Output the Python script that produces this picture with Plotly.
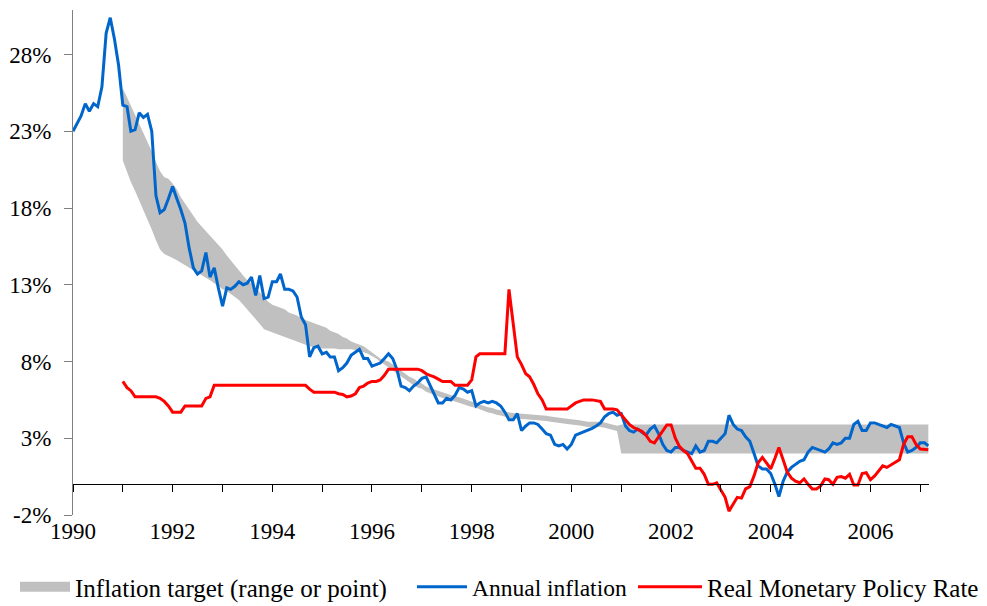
import pandas as pd
import plotly.graph_objects as go

# Annual inflation (%), monthly from Jan 1990
inflation = [
    23.0, 23.5, 24.0, 24.8, 24.3, 24.8, 24.6, 25.9, 29.4, 30.4, 29.0, 27.3,   # 1990
    24.7, 24.6, 23.0, 23.1, 24.2, 23.9, 24.1, 23.0, 18.8, 17.7, 17.9, 18.6,   # 1991
    19.4, 18.6, 17.9, 17.0, 15.4, 14.1, 13.7, 13.9, 15.1, 13.5, 14.1, 12.8,   # 1992
    11.6, 12.8, 12.7, 12.9, 13.2, 13.0, 13.1, 13.5, 12.3, 13.6, 12.1, 12.2,   # 1993
    13.2, 13.2, 13.7, 12.7, 12.7, 12.6, 12.2, 10.9, 10.4, 8.3, 8.9, 9.0,      # 1994
    8.5, 8.6, 8.3, 8.3, 7.4, 7.6, 7.9, 8.4, 8.6, 8.8, 8.2, 8.2,              # 1995
    7.7, 7.8, 7.9, 8.2, 8.5, 8.2, 7.5, 6.4, 6.3, 6.1, 6.4, 6.6,              # 1996
    6.9, 7.0, 6.5, 5.9, 5.3, 5.3, 5.6, 5.5, 5.8, 6.3, 6.2, 6.0,              # 1997
    6.1, 5.1, 5.3, 5.4, 5.3, 5.4, 5.3, 5.1, 4.7, 4.2, 4.2, 4.6,              # 1998
    3.5, 3.8, 4.0, 4.0, 3.9, 3.6, 3.3, 3.2, 2.6, 2.5, 2.6, 2.3,              # 1999
    2.6, 3.2, 3.3, 3.4, 3.5, 3.65, 3.8, 4.0, 4.4, 4.6, 4.7, 4.5,             # 2000
    4.6, 3.8, 3.5, 3.4, 3.6, 3.4, 3.2, 3.6, 3.8, 3.3, 2.6, 2.2,              # 2001
    2.1, 2.4, 2.4, 2.2, 2.1, 2.0, 2.5, 2.1, 2.2, 2.8, 2.8, 2.7,              # 2002
    3.0, 3.3, 4.5, 3.9, 3.6, 3.5, 3.1, 2.8, 2.0, 1.2, 1.0, 1.0,              # 2003
    0.7, 0.0, -0.8, 0.2, 0.8, 1.1, 1.3, 1.5, 1.6, 2.1, 2.4, 2.3,             # 2004
    2.2, 2.1, 2.3, 2.7, 2.6, 2.7, 3.0, 3.0, 3.9, 4.1, 3.5, 3.5,              # 2005
    4.0, 4.0, 3.9, 3.8, 3.7, 3.9, 3.8, 3.7, 2.7, 2.1, 2.2, 2.4,              # 2006
    2.7, 2.7, 2.5,                                                           # 2007
]

# Real monetary policy rate (%), monthly from Jan 1991
real_mpr = [
    6.7, 6.3, 6.1, 5.7, 5.7, 5.7, 5.7, 5.7, 5.7, 5.6, 5.4, 5.1,              # 1991
    4.7, 4.7, 4.7, 5.1, 5.1, 5.1, 5.1, 5.1, 5.6, 5.7, 6.45, 6.45,            # 1992
    6.45, 6.45, 6.45, 6.45, 6.45, 6.45, 6.45, 6.45, 6.45, 6.45, 6.45, 6.45,  # 1993
    6.45, 6.45, 6.45, 6.45, 6.45, 6.45, 6.45, 6.45, 6.45, 6.2, 6.0, 6.0,     # 1994
    6.0, 6.0, 6.0, 6.0, 5.9, 5.85, 5.7, 5.75, 5.9, 6.3, 6.4, 6.6,            # 1995
    6.7, 6.7, 6.8, 7.1, 7.5, 7.5, 7.5, 7.5, 7.5, 7.5, 7.5, 7.5,              # 1996
    7.4, 7.2, 7.1, 7.0, 6.85, 6.7, 6.7, 6.7, 6.45, 6.45, 6.45, 6.45,         # 1997
    6.8, 8.3, 8.5, 8.5, 8.5, 8.5, 8.5, 8.5, 8.5, 12.7, 10.4, 8.3,            # 1998
    7.8, 7.2, 7.0, 6.5, 5.9, 5.5, 4.9, 4.9, 4.9, 4.9, 4.9, 4.9,              # 1999
    5.1, 5.3, 5.4, 5.5, 5.5, 5.5, 5.45, 5.4, 4.9, 4.9, 4.9, 4.85,            # 2000
    4.5, 4.2, 3.9, 3.7, 3.55, 3.45, 3.2, 2.8, 2.7, 3.1, 3.5, 3.87,           # 2001
    3.87, 3.0, 2.5, 2.2, 2.0, 1.5, 1.05, 1.05, 0.65, 0.0, 0.0, 0.1,          # 2002
    -0.4, -0.85, -1.75, -1.3, -0.85, -0.9, -0.3, -0.15, 0.55, 1.4, 1.75, 1.4,  # 2003
    1.0, 1.7, 2.4, 1.6, 0.8, 0.4, 0.2, 0.1, 0.35, 0.0, -0.3, -0.3,          # 2004
    -0.1, 0.35, 0.3, 0.0, 0.45, 0.5, 0.4, 0.65, -0.05, -0.05, 0.7, 0.75,     # 2005
    0.3, 0.55, 0.85, 1.2, 1.1, 1.25, 1.4, 1.6, 2.6, 3.1, 3.1, 2.6,           # 2006
    2.3, 2.25, 2.25,                                                         # 2007
]

# Inflation target band (%), monthly from Jan 1991: lower and upper bounds
target_low = [
    21.1, 20.3, 19.7, 19.1, 18.5, 17.9, 17.2, 16.6, 15.9, 15.3, 15.0, 14.85,   # 1991
    14.75, 14.6, 14.45, 14.3, 14.1, 13.95, 13.8, 13.65, 13.5, 13.3, 13.1, 12.9,  # 1992
    12.7, 12.6, 12.4, 12.2, 12.0, 11.7, 11.4, 11.1, 10.8, 10.45, 10.1, 10.0,   # 1993
    9.85, 9.75, 9.7, 9.6, 9.5, 9.4, 9.3, 9.2, 9.1, 9.0, 8.95, 8.9,             # 1994
    8.85, 8.85, 8.85, 8.85, 8.8, 8.8, 8.8, 8.8, 8.75, 8.7, 8.6, 8.5,           # 1995
    8.35, 8.2, 8.0, 7.8, 7.6, 7.4, 7.2, 7.0, 6.8, 6.6, 6.45, 6.3,              # 1996
    6.23, 6.03, 5.93, 5.83, 5.73, 5.63, 5.58, 5.48, 5.38, 5.33, 5.23, 5.13,    # 1997
    5.03, 4.98, 4.88, 4.78, 4.68, 4.63, 4.53, 4.48, 4.38, 4.33, 4.30, 4.28,    # 1998
    4.25, 4.23, 4.21, 4.20, 4.19, 4.18, 4.13, 4.08, 4.03, 3.98, 3.95, 3.93,    # 1999
    3.90, 3.88, 3.83, 3.78, 3.73, 3.73, 3.73, 3.73, 3.68, 3.63, 3.53, 3.48,    # 2000
    2.0, 2.0, 2.0, 2.0, 2.0, 2.0, 2.0, 2.0, 2.0, 2.0, 2.0, 2.0,                # 2001
    2.0, 2.0, 2.0, 2.0, 2.0, 2.0, 2.0, 2.0, 2.0, 2.0, 2.0, 2.0,                # 2002
    2.0, 2.0, 2.0, 2.0, 2.0, 2.0, 2.0, 2.0, 2.0, 2.0, 2.0, 2.0,                # 2003
    2.0, 2.0, 2.0, 2.0, 2.0, 2.0, 2.0, 2.0, 2.0, 2.0, 2.0, 2.0,                # 2004
    2.0, 2.0, 2.0, 2.0, 2.0, 2.0, 2.0, 2.0, 2.0, 2.0, 2.0, 2.0,                # 2005
    2.0, 2.0, 2.0, 2.0, 2.0, 2.0, 2.0, 2.0, 2.0, 2.0, 2.0, 2.0,                # 2006
    2.0, 2.0, 2.0,                                                             # 2007
]
target_high = [
    25.8, 25.2, 24.7, 24.1, 23.5, 22.9, 22.3, 21.7, 21.0, 20.4, 20.0, 19.9,    # 1991
    19.6, 19.2, 18.7, 18.3, 17.9, 17.5, 17.1, 16.8, 16.5, 16.2, 15.9, 15.6,    # 1992
    15.3, 14.9, 14.6, 14.2, 13.9, 13.6, 13.3, 13.1, 12.8, 12.5, 12.2, 11.9,    # 1993
    11.7, 11.6, 11.5, 11.4, 11.2, 11.1, 11.0, 10.8, 10.7, 10.6, 10.5, 10.4,    # 1994
    10.3, 10.2, 10.0, 9.9, 9.8, 9.6, 9.5, 9.3, 9.2, 9.1, 9.0, 8.8,             # 1995
    8.6, 8.4, 8.2, 8.1, 8.0, 7.8, 7.6, 7.4, 7.2, 7.0, 6.9, 6.7,                # 1996
    6.57, 6.37, 6.27, 6.17, 6.07, 5.97, 5.92, 5.82, 5.72, 5.67, 5.57, 5.47,    # 1997
    5.37, 5.32, 5.22, 5.12, 5.02, 4.97, 4.87, 4.82, 4.72, 4.67, 4.64, 4.62,    # 1998
    4.59, 4.57, 4.55, 4.54, 4.53, 4.52, 4.47, 4.42, 4.37, 4.32, 4.29, 4.27,    # 1999
    4.24, 4.22, 4.17, 4.12, 4.07, 4.07, 4.07, 4.07, 4.02, 3.97, 3.87, 3.82,    # 2000
    3.9, 3.9, 3.9, 3.9, 3.9, 3.9, 3.9, 3.9, 3.9, 3.9, 3.9, 3.9,                # 2001
    3.9, 3.9, 3.9, 3.9, 3.9, 3.9, 3.9, 3.9, 3.9, 3.9, 3.9, 3.9,                # 2002
    3.9, 3.9, 3.9, 3.9, 3.9, 3.9, 3.9, 3.9, 3.9, 3.9, 3.9, 3.9,                # 2003
    3.9, 3.9, 3.9, 3.9, 3.9, 3.9, 3.9, 3.9, 3.9, 3.9, 3.9, 3.9,                # 2004
    3.9, 3.9, 3.9, 3.9, 3.9, 3.9, 3.9, 3.9, 3.9, 3.9, 3.9, 3.9,                # 2005
    3.9, 3.9, 3.9, 3.9, 3.9, 3.9, 3.9, 3.9, 3.9, 3.9, 3.9, 3.9,                # 2006
    3.9, 3.9, 3.9,                                                             # 2007
]

y_tick_values = [-2, 3, 8, 13, 18, 23, 28]
y_tick_labels = ["-2%", "3%", "8%", "13%", "18%", "23%", "28%"]

dates_infl = pd.date_range("1990-01-01", periods=len(inflation), freq="MS")
dates_mpr = pd.date_range("1991-01-01", periods=len(real_mpr), freq="MS")
dates_band = pd.date_range("1991-01-01", periods=len(target_low), freq="MS")

FONT = "Liberation Serif, Times New Roman, serif"
Y_MIN, Y_MAX = -2, 30.9
X_RANGE = ["1990-01-01", "2007-03-06"]
BAND_COLOR = "#C0C0C0"
BLUE = "#0066CC"
RED = "#FF0000"

fig = go.Figure()
fig.add_trace(go.Scatter(x=dates_band, y=target_low, mode="lines",
                         line=dict(width=0, color=BAND_COLOR),
                         showlegend=False, hoverinfo="skip"))
fig.add_trace(go.Scatter(x=dates_band, y=target_high, mode="lines",
                         line=dict(width=0, color=BAND_COLOR),
                         fill="tonexty", fillcolor=BAND_COLOR,
                         showlegend=False))
# legend key for the band (no data drawn)
fig.add_trace(go.Scatter(x=[None], y=[None], mode="lines",
                         line=dict(width=17, color=BAND_COLOR),
                         name="Inflation target (range or point)", legend="legend"))
fig.add_trace(go.Scatter(x=dates_infl, y=inflation, mode="lines",
                         line=dict(width=3, color=BLUE),
                         name="Annual inflation", legend="legend2"))
fig.add_trace(go.Scatter(x=dates_mpr, y=real_mpr, mode="lines", xaxis="x2",
                         line=dict(width=3, color=RED),
                         name="Real Monetary Policy Rate", legend="legend3"))

# the page body adds an 8px offset; figure sized to fit the window
W, H = 979, 598
L, R, T, B = 65, 58, 2, 91
plot_w = W - L - R
plot_h = H - T - B
zero_pos = (0 - Y_MIN) / (Y_MAX - Y_MIN)


def px_x(px):
    return (px - L) / plot_w


leg_y = (H - B - 579) / plot_h
leg_common = dict(orientation="h", xanchor="left", yanchor="middle", y=leg_y,
                  bgcolor="rgba(0,0,0,0)", borderwidth=0)

fig.update_layout(
    width=W, height=H,
    margin=dict(l=L, r=R, t=T, b=B, autoexpand=False),
    paper_bgcolor="white", plot_bgcolor="white",
    font=dict(family=FONT, size=23, color="black"),
    xaxis=dict(type="date", range=X_RANGE, tick0="1990-01-01", dtick="M24",
               tickformat="%Y", showgrid=False, zeroline=False, showline=False,
               ticks="", tickfont=dict(size=23)),
    xaxis2=dict(type="date", overlaying="x", matches="x", anchor="free",
                position=zero_pos, range=X_RANGE, tick0="1990-01-01", dtick="M12",
                showticklabels=False, showgrid=False, zeroline=False,
                showline=True, linecolor="black", linewidth=1,
                ticks="outside", ticklen=7, tickcolor="black", tickwidth=1),
    yaxis=dict(range=[Y_MIN, Y_MAX], tickvals=y_tick_values, ticktext=y_tick_labels,
               showgrid=False, zeroline=False, showline=True, linecolor="#808080",
               linewidth=1, ticks="outside", ticklen=8, tickcolor="#808080",
               ticklabelstandoff=8, tickfont=dict(size=23)),
    legend=dict(x=px_x(7), itemwidth=50,
                font=dict(size=25, family=FONT, color="black"), **leg_common),
    legend2=dict(x=px_x(404), itemwidth=50,
                 font=dict(size=23.5, family=FONT, color="black"), **leg_common),
    legend3=dict(x=px_x(625), itemwidth=64,
                 font=dict(size=25, family=FONT, color="black"), **leg_common),
    showlegend=True,
)

fig.write_html("out.html")
